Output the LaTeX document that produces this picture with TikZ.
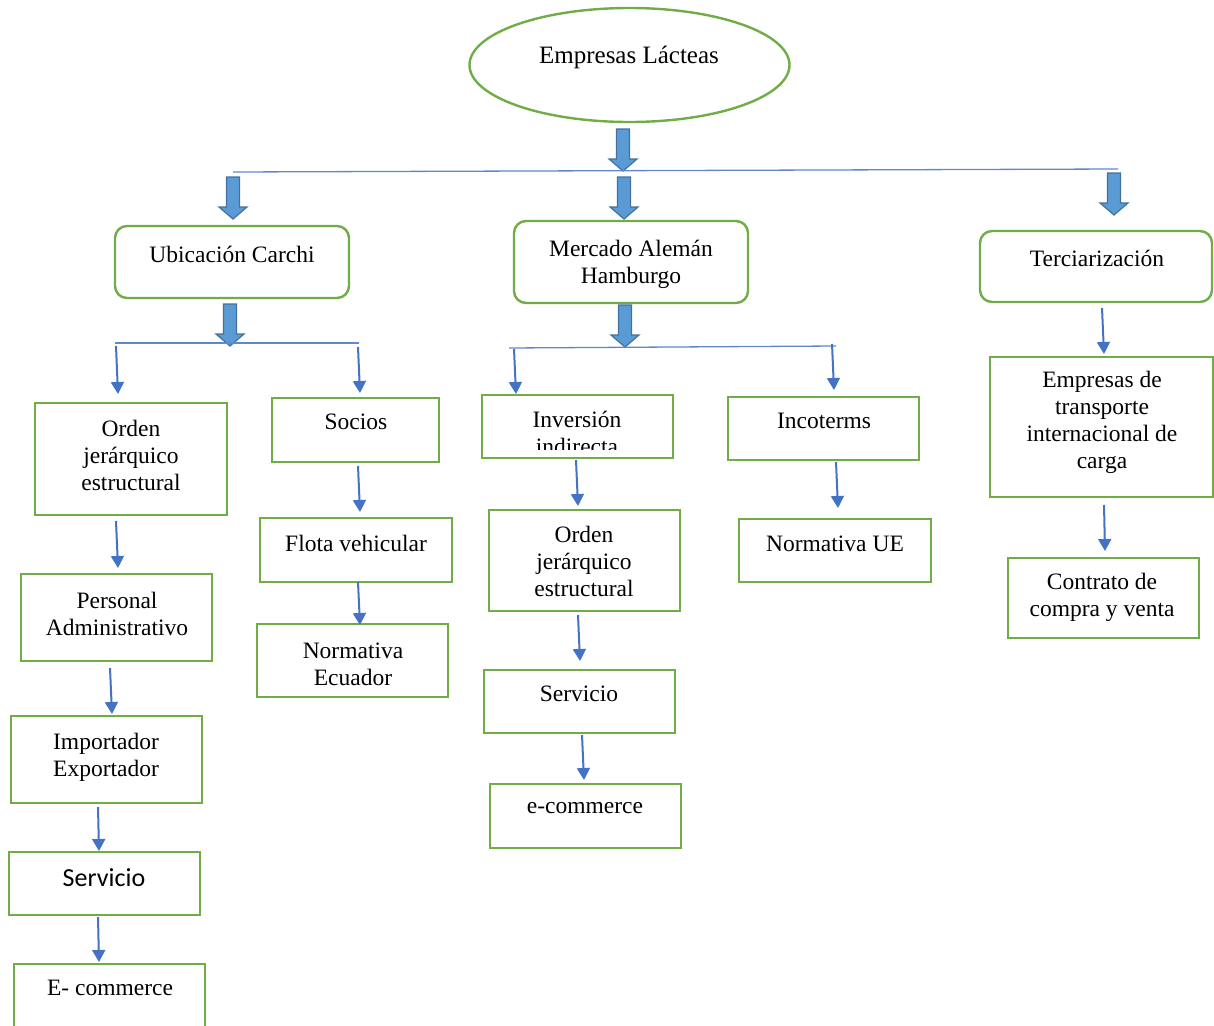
\documentclass[tikz,border=0pt]{standalone}
\usepackage{fontspec}
\setmainfont{Liberation Serif}
\newfontfamily\calibrifont{Carlito}
\usetikzlibrary{arrows.meta,shapes.geometric,calc}
\definecolor{boxgreen}{HTML}{70AD47}
\definecolor{arrowblue}{HTML}{4472C4}
\definecolor{blockfill}{HTML}{5B9BD5}
\definecolor{blockedge}{HTML}{41719C}
\tikzset{
 box/.style={draw=boxgreen,line width=2.4pt,inner sep=0pt,outer sep=0pt,anchor=north west},
 rbox/.style={box,rounded corners=12pt},
 txt/.style={font=\fontsize{23.5}{27}\selectfont,align=center,inner sep=0pt},
 thinarr/.style={draw=arrowblue,line width=2pt,-{Triangle[width=13pt,length=12pt]}},
 hline/.style={draw=arrowblue!85,line width=1.3pt},
 blk/.style={fill=blockfill,draw=blockedge,line width=1.2pt,line join=miter}
}
\newcommand\blkarrow[2]{%
 \draw[blk] (#1-6.5,#2) -- (#1+6.5,#2) -- (#1+6.5,#2+30) -- (#1+14,#2+30) -- (#1,#2+42) -- (#1-14,#2+30) -- (#1-6.5,#2+30) -- cycle;}
\newcommand\thinarrow[5]{%
 \coordinate (#1s) at (#2,#3);
 \coordinate (#1e) at (#4,#5);
 \draw[thinarr] (#1s) -- (#1e);}
\newcommand\bx[6]{%
 \node[#1,minimum width=#5pt,minimum height=#6pt] (#2) at (#3,#4) {};}
\begin{document}
\begin{tikzpicture}[x=1pt,y=-1pt]
\useasboundingbox (0,0) rectangle (1214,1025);
\clip (0,0) rectangle (1214,1025);
% title
\node[ellipse,draw=boxgreen,line width=2.4pt,minimum width=320pt,minimum height=114pt,inner sep=0pt,outer sep=0pt] (title) at (629.5,65) {};
\node[txt,font=\fontsize{25}{30}\selectfont] (titletxt) at (629,57) {Empresas Lácteas};
% block arrows and lines
\blkarrow{623}{129}
\coordinate (l1a) at (233,172);
\coordinate (l1b) at (1118,169);
\draw[hline] (l1a) -- (l1b);
\blkarrow{233}{177}
\blkarrow{624}{177}
\blkarrow{1114}{173}
% level 1 boxes
\bx{rbox}{ubic}{115}{226}{234}{72}
\bx{rbox}{merc}{514}{221}{234}{82}
\bx{rbox}{terc}{980}{231}{232}{71}
\node[txt] (ubictxt) at (232,254) {Ubicación Carchi};
\node[txt] (merctxt) at (631,264) {Mercado Alemán\\Hamburgo};
\node[txt] (terctxt) at (1097,258) {Terciarización};
\blkarrow{230}{304}
\blkarrow{625}{305}
\coordinate (l2a) at (115,343);
\coordinate (l2b) at (359,343);
\draw[hline] (l2a) -- (l2b);
\coordinate (l3a) at (509,348);
\coordinate (l3b) at (836,346);
\draw[hline] (l3a) -- (l3b);
% boxes
\bx{box}{ord1}{35}{403}{192}{112}
\bx{box}{soc}{272}{398}{167}{64}
\bx{box}{pers}{21}{574}{191}{87}
\bx{box}{imp}{11}{716}{191}{87}
\bx{box}{serv1}{9}{852}{191}{63}
\bx{box}{ecom1}{14}{964}{191}{80}
\bx{box}{flota}{260}{518}{192}{64}
\bx{box}{normec}{257}{624}{191}{73}
\bx{box}{inv}{482}{395}{191}{63}
\bx{box}{inco}{728}{397}{191}{63}
\bx{box}{ord2}{489}{510}{191}{101}
\bx{box}{serv2}{484}{670}{191}{63}
\bx{box}{ecom2}{490}{784}{191}{64}
\bx{box}{normue}{739}{519}{192}{63}
\bx{box}{empt}{990}{357}{223}{140}
\bx{box}{contr}{1008}{558}{191}{80}
% texts
\node[txt] (ord1txt) at (131,455) {Orden\\jerárquico\\estructural};
\node[txt] (soctxt) at (356,422) {Socios};
\node[txt] (perstxt) at (117,614) {Personal\\Administrativo};
\node[txt] (imptxt) at (106,757) {Importador\\Exportador};
\node[txt,font=\calibrifont\fontsize{26}{30}\selectfont] (serv1txt) at (104,878) {Servicio};
\node[txt] (ecom1txt) at (110,988) {E- commerce};
\node[txt] (flotatxt) at (356,543) {Flota vehicular};
\node[txt] (normectxt) at (353,664) {Normativa\\Ecuador};
\begin{scope}
\clip (484,397) rectangle (671,449);
\node[txt] (invtxt) at (577,433) {Inversión\\indirecta};
\end{scope}
\node[txt] (incotxt) at (824,421) {Incoterms};
\node[txt] (ord2txt) at (584,561) {Orden\\jerárquico\\estructural};
\node[txt] (serv2txt) at (579,694) {Servicio};
\node[txt] (ecom2txt) at (585,808) {e-commerce};
\node[txt] (normuetxt) at (835,544) {Normativa UE};
\node[txt] (empttxt) at (1102,422) {Empresas de\\transporte\\internacional de\\carga};
\node[txt] (contrtxt) at (1102,597) {Contrato de\\compra y venta};
% thin arrows
\thinarrow{a1}{116}{346}{118}{394}
\thinarrow{a2}{358}{347}{360}{393}
\thinarrow{a3}{116}{521}{118}{568}
\thinarrow{a4}{110}{668}{112}{714}
\thinarrow{a5}{98}{807}{99}{851}
\thinarrow{a6}{98}{917}{99}{962}
\thinarrow{a7}{358}{466}{360}{512}
\thinarrow{a8}{358}{582}{360}{625}
\thinarrow{a9}{514}{349}{516}{394}
\thinarrow{a10}{832}{344}{834}{390}
\thinarrow{a11}{576}{460}{578}{506}
\thinarrow{a12}{578}{615}{580}{661}
\thinarrow{a13}{582}{735}{584}{780}
\thinarrow{a14}{836}{462}{838}{508}
\thinarrow{a15}{1102}{308}{1104}{354}
\thinarrow{a16}{1104}{505}{1105}{551}
\end{tikzpicture}
\end{document}
